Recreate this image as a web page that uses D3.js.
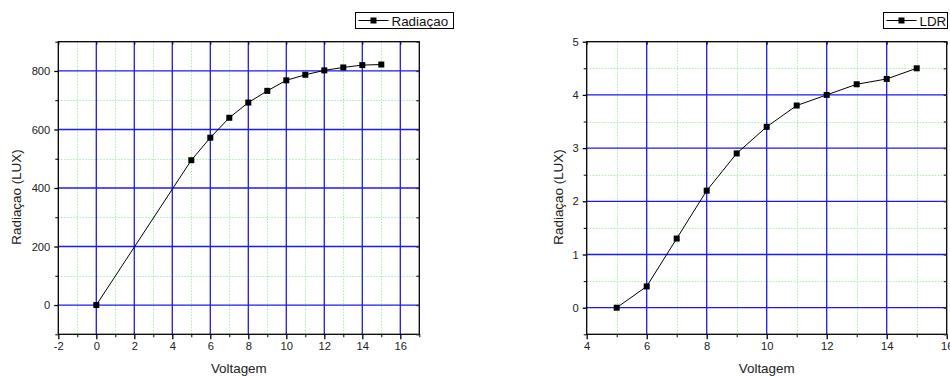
<!DOCTYPE html>
<html>
<head>
<meta charset="utf-8">
<script src="https://cdn.jsdelivr.net/npm/d3@7/dist/d3.min.js"></script>
<style>
  body { margin: 0; background: #fff; }
  svg { display: block; font-family: "Liberation Sans", Arial, sans-serif; }
</style>
</head>
<body>
<svg id="chart" width="950" height="376"></svg>
<script>
// ---- Data ----
const radVolt = [0, 5, 6, 7, 8, 9, 10, 11, 12, 13, 14, 15];
const radValues = [0, 495, 572, 640, 692, 732, 768, 787, 802, 812, 820, 822];
const ldrVolt = [5, 6, 7, 8, 9, 10, 11, 12, 13, 14, 15];
const ldrValues = [0, 0.4, 1.3, 2.2, 2.9, 3.4, 3.8, 4.0, 4.2, 4.3, 4.5];
const leftXTicks = [-2, 0, 2, 4, 6, 8, 10, 12, 14, 16];
const leftXMinor = [-1, 1, 3, 5, 7, 9, 11, 13, 15, 17];
const leftYTicks = [0, 200, 400, 600, 800];
const leftYMinor = [-100, 100, 300, 500, 700, 900];
const rightXTicks = [4, 6, 8, 10, 12, 14, 16];
const rightXMinor = [5, 7, 9, 11, 13, 15];
const rightYTicks = [0, 1, 2, 3, 4, 5];
const rightYMinor = [-0.5, 0.5, 1.5, 2.5, 3.5, 4.5];
const xTitle = "Voltagem";
const yTitle = "Radiaçao (LUX)";

const svg = d3.select("#chart");
const fmt = d => String(d);   // plain hyphen-minus like the reference

function drawChart(cfg) {
  const x = d3.scaleLinear().domain(cfg.xDomain).range([cfg.left, cfg.right]);
  const y = d3.scaleLinear().domain(cfg.yDomain).range([cfg.bottom, cfg.top]);
  const g = svg.append("g");
  const green = "#a6f0a6", blue = "#1a1af5";

  // minor grid (green dotted)
  g.append("g").selectAll("line").data(cfg.xMinor.filter(v => x(v) < cfg.right - 0.5)).join("line")
    .attr("x1", d => Math.round(x(d)) + 0.5).attr("x2", d => Math.round(x(d)) + 0.5)
    .attr("y1", cfg.top).attr("y2", cfg.bottom)
    .attr("stroke", green).attr("stroke-width", 1).attr("stroke-dasharray", "1.5,1.5");
  g.append("g").selectAll("line").data(cfg.yMinor.filter(v => y(v) > cfg.top + 0.5 && y(v) < cfg.bottom - 0.5)).join("line")
    .attr("y1", d => Math.round(y(d)) + 0.5).attr("y2", d => Math.round(y(d)) + 0.5)
    .attr("x1", cfg.left).attr("x2", cfg.right)
    .attr("stroke", green).attr("stroke-width", 1).attr("stroke-dasharray", "1.5,1.5");

  // major grid (blue)
  g.append("g").selectAll("line").data(cfg.xTicks.filter(v => x(v) > cfg.left + 0.5 && x(v) < cfg.right - 0.5)).join("line")
    .attr("x1", d => x(d)).attr("x2", d => x(d))
    .attr("y1", cfg.top).attr("y2", cfg.bottom)
    .attr("stroke", blue).attr("stroke-width", 1.3);
  g.append("g").selectAll("line").data(cfg.yTicks.filter(v => y(v) > cfg.top + 0.5 && y(v) < cfg.bottom - 0.5)).join("line")
    .attr("y1", d => y(d)).attr("y2", d => y(d))
    .attr("x1", cfg.left).attr("x2", cfg.right)
    .attr("stroke", blue).attr("stroke-width", 1.3);

  // frame
  g.append("rect").attr("x", cfg.left).attr("y", cfg.top)
    .attr("width", cfg.right - cfg.left).attr("height", cfg.bottom - cfg.top)
    .attr("fill", "none").attr("stroke", "#000").attr("stroke-width", 1.3);

  // bottom axis
  const xAxis = d3.axisBottom(x).tickValues(cfg.xTicks).tickSize(5).tickPadding(3).tickFormat(fmt);
  const gx = g.append("g").attr("transform", `translate(0,${cfg.bottom})`).call(xAxis);
  gx.select(".domain").remove();
  gx.selectAll("line").attr("stroke", "#000").attr("stroke-width", 1.3);
  gx.selectAll("text").attr("font-size", 11.2).attr("fill", "#222").attr("font-family", "Liberation Sans, Arial, sans-serif");
  const gxm = g.append("g").attr("transform", `translate(0,${cfg.bottom})`)
    .call(d3.axisBottom(x).tickValues(cfg.xMinor.filter(v => x(v) <= cfg.right)).tickSize(3).tickFormat(""));
  gxm.select(".domain").remove();
  gxm.selectAll("line").attr("stroke", "#000");

  // top axis (inward ticks)
  const gt = g.append("g").attr("transform", `translate(0,${cfg.top})`)
    .call(d3.axisBottom(x).tickValues(cfg.xTicks).tickSize(3).tickFormat(""));
  gt.select(".domain").remove();
  gt.selectAll("line").attr("stroke", "#000");

  // left axis
  const yAxis = d3.axisLeft(y).tickValues(cfg.yTicks).tickSize(4).tickPadding(4).tickFormat(fmt);
  const gy = g.append("g").attr("transform", `translate(${cfg.left},0)`).call(yAxis);
  gy.select(".domain").remove();
  gy.selectAll("line").attr("stroke", "#000").attr("stroke-width", 1.3);
  gy.selectAll("text").attr("font-size", 11.2).attr("fill", "#222").attr("font-family", "Liberation Sans, Arial, sans-serif");
  const gym = g.append("g").attr("transform", `translate(${cfg.left},0)`)
    .call(d3.axisLeft(y).tickValues(cfg.yMinor).tickSize(3).tickFormat(""));
  gym.select(".domain").remove();
  gym.selectAll("line").attr("stroke", "#000");

  // right axis (inward ticks)
  const gr = g.append("g").attr("transform", `translate(${cfg.right},0)`)
    .call(d3.axisRight(y).tickValues(cfg.yTicks.concat(cfg.yMinor)).tickSize(-3).tickFormat(""));
  gr.select(".domain").remove();
  gr.selectAll("line").attr("stroke", "#333").attr("stroke-width", 1.3);

  // data line
  const pts = cfg.xs.map((v, i) => [v, cfg.ys[i]]);
  g.append("path").datum(pts)
    .attr("d", d3.line().x(d => x(d[0])).y(d => y(d[1])))
    .attr("fill", "none").attr("stroke", "#000").attr("stroke-width", 1);
  const ms = 6;
  g.append("g").selectAll("rect").data(pts).join("rect")
    .attr("x", d => x(d[0]) - ms / 2).attr("y", d => y(d[1]) - ms / 2)
    .attr("width", ms).attr("height", ms).attr("fill", "#000");

  // titles
  g.append("text").attr("x", (cfg.left + cfg.right) / 2).attr("y", 372.5)
    .attr("text-anchor", "middle").attr("font-size", 13.4).attr("fill", "#222").text(xTitle);
  g.append("text").attr("transform", `translate(${cfg.yTitleX},197) rotate(-90)`)
    .attr("text-anchor", "middle").attr("dominant-baseline", "central")
    .attr("font-size", 13.4).attr("fill", "#222").text(yTitle);

  // legend
  const lg = g.append("g");
  lg.append("rect").attr("x", cfg.legX).attr("y", 12.5).attr("width", cfg.legW).attr("height", 16)
    .attr("fill", "#fff").attr("stroke", "#000").attr("stroke-width", 1);
  lg.append("line").attr("x1", cfg.legX + 3).attr("x2", cfg.legX + 33).attr("y1", 20.5).attr("y2", 20.5)
    .attr("stroke", "#000").attr("stroke-width", 1);
  lg.append("rect").attr("x", cfg.legX + 18 - 3).attr("y", 20.5 - 3).attr("width", 6).attr("height", 6).attr("fill", "#000");
  lg.append("text").attr("x", cfg.legX + 36).attr("y", 25.8)
    .attr("font-size", 13.4).attr("fill", "#111").text(cfg.legend);
}

drawChart({
  xDomain: [-2, 17], yDomain: [-100, 900],
  left: 58.3, right: 419.3, top: 41.7, bottom: 334.3,
  xTicks: leftXTicks, xMinor: leftXMinor, yTicks: leftYTicks, yMinor: leftYMinor,
  xs: radVolt, ys: radValues,
  yTitleX: 16.7, legX: 355.5, legW: 98, legend: "Radiaçao"
});

drawChart({
  xDomain: [4, 16], yDomain: [-0.5, 5],
  left: 586.7, right: 946.7, top: 41.7, bottom: 334.3,
  xTicks: rightXTicks, xMinor: rightXMinor, yTicks: rightYTicks, yMinor: rightYMinor,
  xs: ldrVolt, ys: ldrValues,
  yTitleX: 558.3, legX: 883.5, legW: 64, legend: "LDR"
});
</script>
</body>
</html>
